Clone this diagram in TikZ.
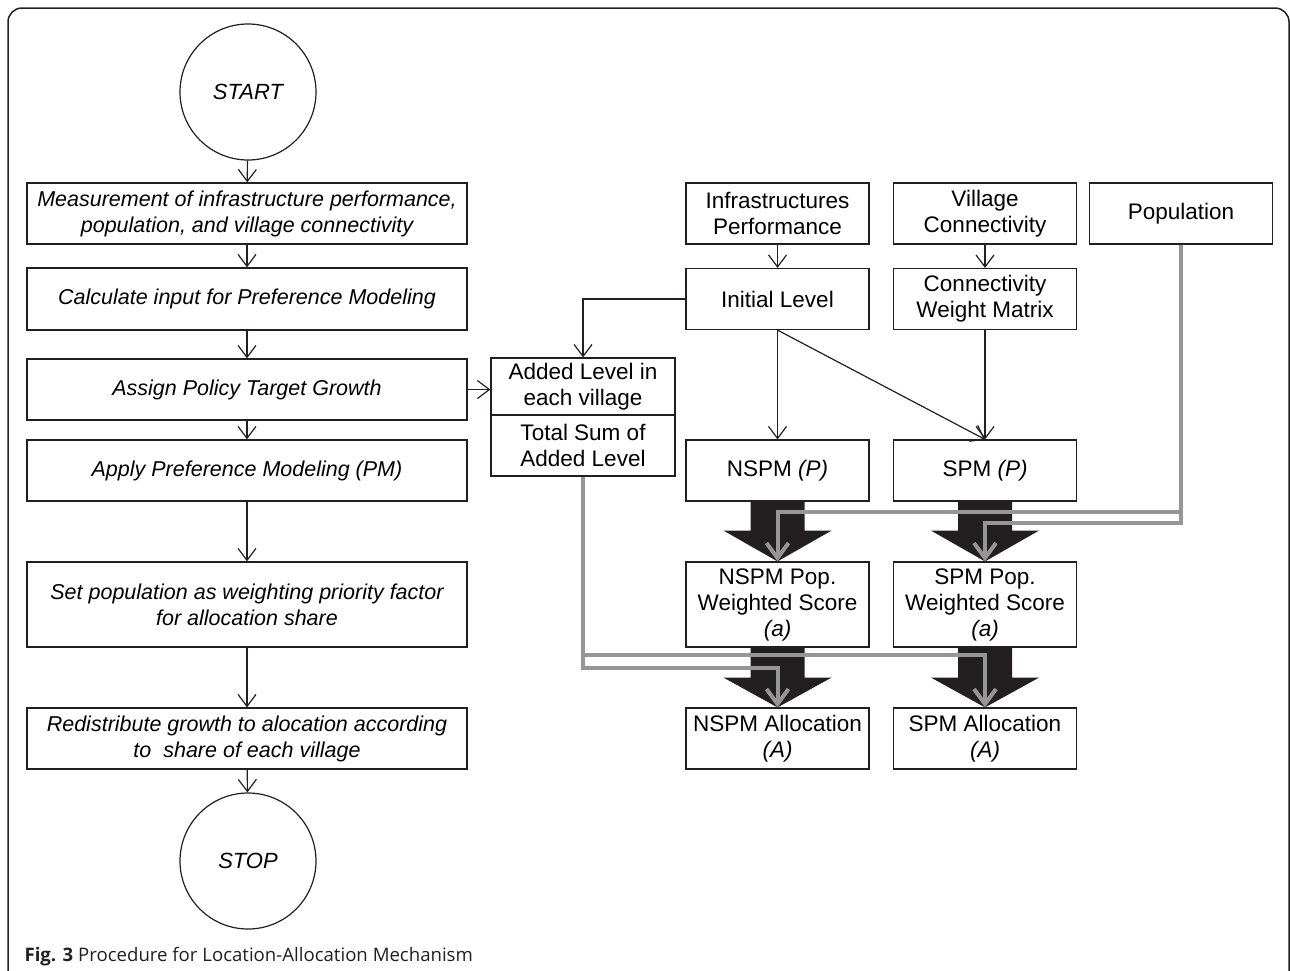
\documentclass[tikz,border=0pt]{standalone}
\usepackage{fontspec}
\setmainfont{Liberation Sans}
\newfontfamily\capfont{Open Sans}
\usetikzlibrary{arrows.meta,calc}

\definecolor{inkblack}{RGB}{35,31,32}
\definecolor{popgray}{RGB}{150,150,150}

\begin{document}
\begin{tikzpicture}[
    x=1pt, y=-1pt,
    line width=1.2pt,
    term/.style={circle, draw=inkblack, minimum size=136pt, font=\itshape\fontsize{22}{26}\selectfont},
    stepbox/.style={rectangle, draw=inkblack, minimum width=440pt, minimum height=61pt, inner sep=2pt, align=center, font=\itshape\fontsize{21.5}{26}\selectfont},
    databox/.style={rectangle, draw=inkblack, minimum width=183pt, minimum height=61pt, inner sep=2pt, align=center, font=\fontsize{22.5}{26}\selectfont},
    flow/.style={draw=inkblack, -{Straight Barb[length=12pt,width=18pt]}},
    popflow/.style={draw=popgray, line width=4pt, -{Straight Barb[length=15pt,width=22pt]}},
    bigarrow/.style={fill=inkblack, draw=none},
]
\useasboundingbox (0,0) rectangle (1290,970);

% frame
\begin{scope}
\clip (0,0) rectangle (1290,970);
\draw[inkblack, line width=1.5pt, rounded corners=14pt] (8,8) rectangle (1289,1010);
\end{scope}

% left column: procedure
\node[term] (start) at (248, 92) {START};
\node[stepbox] (meas) at (247, 213.5) {Measurement of infrastructure performance,\\population, and village connectivity};
\node[stepbox, minimum height=62pt] (calc) at (247, 299) {Calculate input for Preference Modeling};
\node[stepbox] (assign) at (247, 389.5) {Assign Policy Target Growth};
\node[stepbox] (apply) at (247, 470.5) {Apply Preference Modeling (PM)};
\node[stepbox, minimum height=85pt] (setpop) at (247, 604.5) {Set population as weighting priority factor\\for allocation share};
\node[stepbox] (redist) at (247, 738.5) {Redistribute growth to alocation according\\to~ share of each village};
\node[term] (stop) at (248, 861) {STOP};

% middle: added level
\node[databox, minimum width=184pt, minimum height=57pt] (added) at (583, 386.5) {Added Level in\\each village};
\node[databox, minimum width=184pt] (addsum) at (583, 445.5) {Total Sum of\\Added Level};

% right: inputs
\node[databox] (infra) at (777.5, 213.5) {Infrastructures\\Performance};
\node[databox] (village) at (985, 213.5) {Village\\Connectivity};
\node[databox] (pop) at (1181, 213.5) {Population};
\node[databox] (initial) at (777.5, 299) {Initial Level};
\node[databox] (cwm) at (985, 299) {Connectivity\\Weight Matrix};

% right: models and results
\node[databox] (nspm) at (777.5, 470.5) {NSPM \textit{(P)}};
\node[databox] (spm) at (985, 470.5) {SPM \textit{(P)}};
\node[databox, minimum height=85pt] (nspmpop) at (777.5, 604.5) {NSPM Pop.\\Weighted Score\\\textit{(a)}};
\node[databox, minimum height=85pt] (spmpop) at (985, 604.5) {SPM Pop.\\Weighted Score\\\textit{(a)}};
\node[databox] (nspmalloc) at (777.5, 738.5) {NSPM Allocation\\\textit{(A)}};
\node[databox] (spmalloc) at (985, 738.5) {SPM Allocation\\\textit{(A)}};

% caption
\node[anchor=base west, inner sep=0pt, font=\capfont\fontsize{18.6}{20}\selectfont, text=inkblack] (caption) at (24, 961) {\textbf{Fig. 3} Procedure for Location-Allocation Mechanism};

% procedure arrows
\draw[flow] (start) -- (meas);
\draw[flow] (meas) -- (calc);
\draw[flow] (calc) -- (assign);
\draw[flow] (assign) -- (apply);
\draw[flow] (apply) -- (setpop);
\draw[flow] (setpop) -- (redist);
\draw[flow] (redist) -- (stop);

% data arrows
\draw[flow] (assign.east) -- (assign.east -| added.west);
\draw[flow] (initial.west) -| (added.north);
\draw[flow] (infra) -- (initial);
\draw[flow] (village) -- (cwm);
\draw[flow] (initial) -- (nspm);
\draw[flow] (initial.south) -- (spm.north);
\draw[flow] (cwm) -- (spm);

% block arrows
\fill[bigarrow] ($(nspm.south)+(-27,0)$) -- ($(nspm.south)+(27,0)$) -- ($(nspm.south)+(27,29)$) -- ($(nspm.south)+(54,29)$) -- (nspmpop.north) -- ($(nspm.south)+(-54,29)$) -- ($(nspm.south)+(-27,29)$) -- cycle;
\fill[bigarrow] ($(spm.south)+(-27,0)$) -- ($(spm.south)+(27,0)$) -- ($(spm.south)+(27,29)$) -- ($(spm.south)+(54,29)$) -- (spmpop.north) -- ($(spm.south)+(-54,29)$) -- ($(spm.south)+(-27,29)$) -- cycle;
\fill[bigarrow] ($(nspmpop.south)+(-27,0)$) -- ($(nspmpop.south)+(27,0)$) -- ($(nspmpop.south)+(27,30)$) -- ($(nspmpop.south)+(54,30)$) -- (nspmalloc.north) -- ($(nspmpop.south)+(-54,30)$) -- ($(nspmpop.south)+(-27,30)$) -- cycle;
\fill[bigarrow] ($(spmpop.south)+(-27,0)$) -- ($(spmpop.south)+(27,0)$) -- ($(spmpop.south)+(27,30)$) -- ($(spmpop.south)+(54,30)$) -- (spmalloc.north) -- ($(spmpop.south)+(-54,30)$) -- ($(spmpop.south)+(-27,30)$) -- cycle;

% population and added level lines
\draw[popflow] (pop.south) -- ++(0,267) -| (nspmpop.north);
\draw[popflow] (pop.south) -- ++(0,278) -| (spmpop.north);
\draw[popflow] (addsum.south) -- ++(0,178) -| (spmalloc.north);
\draw[popflow] (addsum.south) -- ++(0,191) -| (nspmalloc.north);

\end{tikzpicture}
\end{document}
